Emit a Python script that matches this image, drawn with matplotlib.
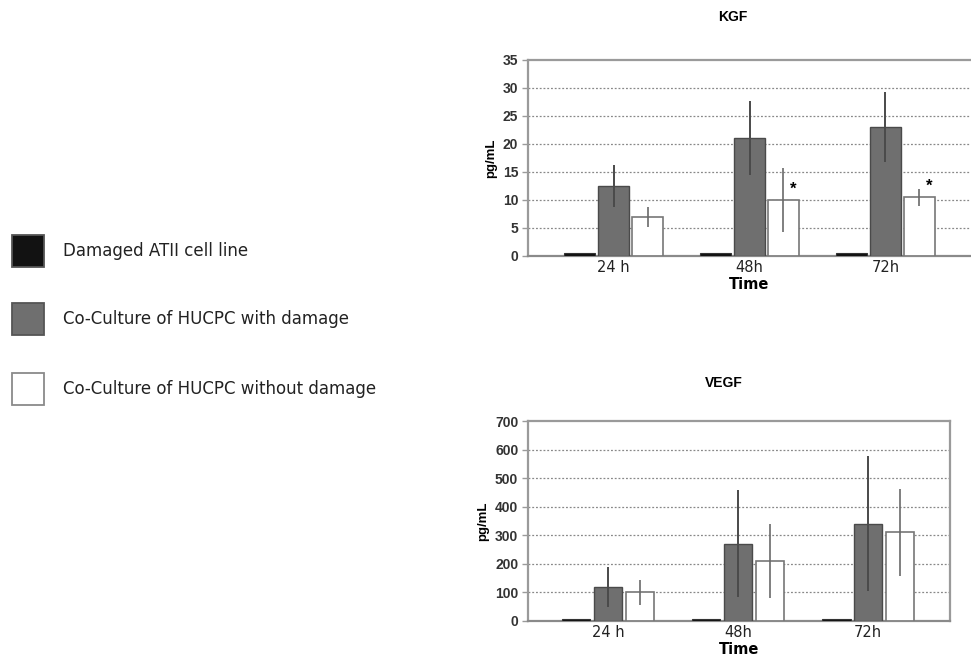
import matplotlib.pyplot as plt
import numpy as np
from matplotlib.patches import Rectangle

# Data
times = ["24 h", "48h", "72h"]
series = ["Damaged ATII cell line", "Co-Culture of HUCPC with damage",
          "Co-Culture of HUCPC without damage"]

kgf_damaged = [0.5, 0.5, 0.5]
kgf_cc_damage = [12.5, 21.0, 23.0]
kgf_cc_damage_err = [3.7, 6.6, 6.3]
kgf_cc_nodamage = [7.0, 10.0, 10.5]
kgf_cc_nodamage_err = [1.8, 5.7, 1.5]
kgf_star = [False, True, True]

vegf_damaged = [8, 8, 8]
vegf_cc_damage = [120, 270, 340]
vegf_cc_damage_err = [70, 187, 236]
vegf_cc_nodamage = [100, 210, 310]
vegf_cc_nodamage_err = [45, 128, 152]

BLACK = "#121212"
GRAY = "#6f6f6f"
WHITE = "#ffffff"
SPINE = "#9a9a9a"
NUM_FONT = "Liberation Sans"
W, H = 971, 656


def draw_panel(ax, damaged, ccd, ccd_err, ccn, ccn_err, ymax, step, xlim, width, off):
    x = np.arange(len(times))
    ax.bar(x - off, damaged, width, color=BLACK, edgecolor="#333333", linewidth=0.8, zorder=3)
    ax.bar(x, ccd, width, color=GRAY, edgecolor="#4a4a4a", linewidth=1.0, zorder=3)
    ax.bar(x + off, ccn, width, color=WHITE, edgecolor="#777777", linewidth=1.2, zorder=3)
    ax.errorbar(x, ccd, yerr=ccd_err, fmt="none", ecolor="#4a4a4a", elinewidth=1.4,
                capsize=0, zorder=4)
    ax.errorbar(x + off, ccn, yerr=ccn_err, fmt="none", ecolor="#6a6a6a", elinewidth=1.2,
                capsize=0, zorder=4)

    ax.set_xlim(*xlim)
    ax.set_ylim(0, ymax)
    ticks = np.arange(0, ymax + step, step)
    ax.set_yticks(ticks)
    ax.set_yticklabels([f"{int(t)}" for t in ticks], fontsize=10, fontweight="bold",
                       family=NUM_FONT, color="#333333")
    ax.set_xticks(x)
    ax.set_xticklabels(times, fontsize=10.5, family="DejaVu Sans", color="#222222")
    ax.tick_params(axis="x", length=0, pad=3)
    ax.tick_params(axis="y", length=4, width=1, color=SPINE, pad=3)
    for t in ticks[1:-1]:
        ax.axhline(t, color="#888888", linestyle=(0, (1.5, 1.5)), linewidth=0.9, zorder=1)
    for s in ["top", "left", "bottom", "right"]:
        ax.spines[s].set_color(SPINE)
        ax.spines[s].set_linewidth(1.6)
    ax.spines["bottom"].set_color("#8a8a8a")
    ax.set_xlabel("Time", fontsize=10.5, fontweight="bold", family="DejaVu Sans", labelpad=1)
    ax.set_ylabel("pg/mL", fontsize=9.5, fontweight="bold", family=NUM_FONT, labelpad=4)
    return x


fig = plt.figure(figsize=(9.71, 6.56), dpi=100)

# KGF panel
ax1 = fig.add_axes([0.5438, 0.6098, 0.4562, 0.2988])
x1 = draw_panel(ax1, kgf_damaged, kgf_cc_damage, kgf_cc_damage_err, kgf_cc_nodamage,
                kgf_cc_nodamage_err, 35, 5, (-0.63, 2.63), 0.23, 0.25)
ax1.spines["right"].set_visible(False)
for xi, v, star in zip(x1, kgf_cc_nodamage, kgf_star):
    if star:
        ax1.text(xi + 0.32, v + 0.6, "*", fontsize=12, fontweight="bold",
                 ha="center", va="bottom", family=NUM_FONT)
fig.text(0.755, 0.974, "KGF", ha="center", va="center", fontsize=10,
         fontweight="bold", family=NUM_FONT)

# VEGF panel
ax2 = fig.add_axes([0.5438, 0.0534, 0.4346, 0.3048])
draw_panel(ax2, vegf_damaged, vegf_cc_damage, vegf_cc_damage_err, vegf_cc_nodamage,
           vegf_cc_nodamage_err, 700, 100, (-0.615, 2.63), 0.22, 0.245)
fig.text(0.745, 0.416, "VEGF", ha="center", va="center", fontsize=10,
         fontweight="bold", family=NUM_FONT)

# Legend on the left, drawn by hand to match the reference layout
legend_faces = [BLACK, GRAY, WHITE]
legend_edges = ["#555555", "#555555", "#8a8a8a"]
legend_tops = [235, 303, 373]
for face, edge, top, label in zip(legend_faces, legend_edges, legend_tops, series):
    fig.add_artist(Rectangle((12 / W, 1 - (top + 32) / H), 32 / W, 32 / H,
                             transform=fig.transFigure, facecolor=face,
                             edgecolor=edge, linewidth=1.3))
    fig.text(63 / W, 1 - (top + 16) / H, label, ha="left", va="center",
             fontsize=12, family="DejaVu Sans", color="#222222")

fig.savefig("out.png", dpi=100)
